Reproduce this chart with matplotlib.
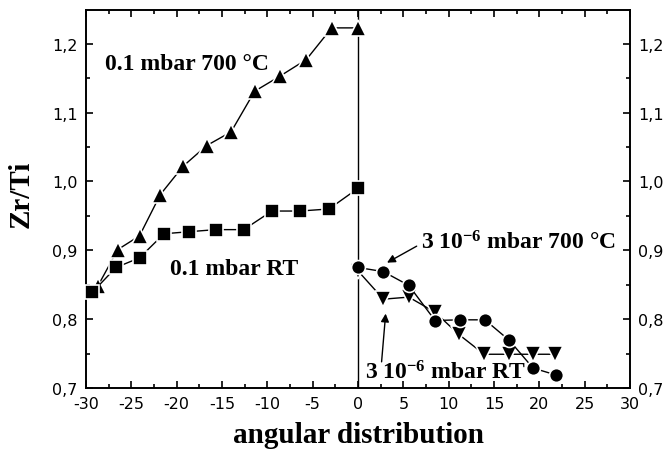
import matplotlib
matplotlib.use("Agg")
import matplotlib.pyplot as plt
from matplotlib.ticker import MultipleLocator, FuncFormatter

# ---- data ----
x_tri_up = [-28.7, -26.5, -24.1, -21.8, -19.3, -16.7, -14.0, -11.4, -8.6, -5.7, -2.9, 0.0]
y_tri_up = [0.848, 0.901, 0.921, 0.981, 1.022, 1.052, 1.072, 1.131, 1.153, 1.177, 1.223, 1.223]

x_sq = [-29.3, -26.7, -24.1, -21.4, -18.6, -15.7, -12.6, -9.5, -6.4, -3.2, 0.0]
y_sq = [0.839, 0.875, 0.889, 0.924, 0.927, 0.930, 0.930, 0.957, 0.957, 0.960, 0.990]

x_circ = [0.0, 2.8, 5.6, 8.5, 11.2, 14.0, 16.7, 19.3, 21.8]
y_circ = [0.875, 0.869, 0.849, 0.798, 0.799, 0.799, 0.769, 0.729, 0.719]

x_tri_dn = [0.0, 2.8, 5.6, 8.5, 11.1, 13.9, 16.7, 19.3, 21.7]
y_tri_dn = [0.870, 0.829, 0.832, 0.810, 0.778, 0.749, 0.749, 0.749, 0.749]

x_ticks = [-30, -25, -20, -15, -10, -5, 0, 5, 10, 15, 20, 25, 30]
y_ticks = [0.7, 0.8, 0.9, 1.0, 1.1, 1.2]

plt.rcParams['mathtext.fontset'] = 'custom'
plt.rcParams['mathtext.rm'] = 'Liberation Serif:bold'
plt.rcParams['mathtext.bf'] = 'Liberation Serif:bold'
plt.rcParams['mathtext.it'] = 'Liberation Serif:bold'
plt.rcParams['axes.unicode_minus'] = False

fig = plt.figure(figsize=(6.7, 4.52), dpi=100)
ax = fig.add_axes([0.1284, 0.1394, 0.8119, 0.8363])

common = dict(color='black', lw=1.0, markeredgecolor='white', markeredgewidth=1.2,
              markerfacecolor='black', clip_on=False, zorder=3)
ax.plot(x_tri_up, y_tri_up, marker='^', ms=11, **common)
ax.plot(x_sq, y_sq, marker='s', ms=9.5, **common)
ax.plot(x_tri_dn, y_tri_dn, marker='v', ms=11, **common)
ax.plot(x_circ, y_circ, marker='o', ms=10, **common)

ax.axvline(0, color='black', lw=1.0, zorder=2)

ax.set_xlim(-30, 30)
ax.set_ylim(0.7, 1.249)
ax.set_xticks(x_ticks)
ax.set_yticks(y_ticks)
ax.xaxis.set_minor_locator(MultipleLocator(2.5))
ax.yaxis.set_minor_locator(MultipleLocator(0.05))
ax.yaxis.set_major_formatter(FuncFormatter(lambda v, p: f"{v:.1f}".replace('.', ',')))
ax.tick_params(which='both', direction='in', top=True, right=True, labelright=True,
               width=1.2, labelsize=11.5, pad=6)
ax.tick_params(which='major', length=5)
ax.tick_params(which='minor', length=3)
for lbl in ax.get_xticklabels() + ax.get_yticklabels():
    lbl.set_family('DejaVu Sans')
for s in ax.spines.values():
    s.set_linewidth(1.4)

serif = dict(family='Liberation Serif', weight='bold', color='black')
ax.text(-27.9, 1.171, '0.1 mbar 700 °C', ha='left', va='center', fontsize=17, **serif)
ax.text(-20.7, 0.874, '0.1 mbar RT', ha='left', va='center', fontsize=17, **serif)
ax.text(7.0, 0.912, r'3 10$^{-6}$ mbar 700 °C', ha='left', va='center', fontsize=17, **serif)
ax.text(0.77, 0.723, r'3 10$^{-6}$ mbar RT', ha='left', va='center', fontsize=17, **serif)

arrow = dict(arrowstyle='-|>', color='black', lw=1.0, mutation_scale=12, shrinkA=0, shrinkB=0)
ax.annotate('', xy=(3.2, 0.882), xytext=(6.47, 0.906), arrowprops=arrow)
ax.annotate('', xy=(3.05, 0.808), xytext=(2.6, 0.738), arrowprops=arrow)

ax.set_xlabel('angular distribution', fontsize=21, labelpad=7, **serif)
ax.set_ylabel('Zr/Ti', fontsize=21, **serif)
ax.yaxis.set_label_coords(-0.095, 0.515)

fig.savefig('out.png', dpi=100)
